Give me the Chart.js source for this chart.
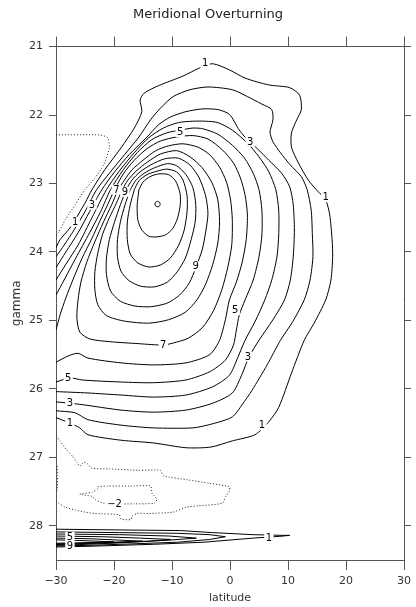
<!DOCTYPE html>
<html>
<head>
<meta charset="utf-8">
<script src="https://cdn.jsdelivr.net/npm/chart.js@4.4.1/dist/chart.umd.min.js"></script>
<style>
  html, body { margin: 0; padding: 0; background: #fff; }
  #wrap { width: 416px; height: 607px; }
</style>
</head>
<body>
<div id="wrap"><canvas id="overturning"></canvas></div>
<script>
// Meridional overturning, contours as [latitude, gamma]
var latTicks = [-30, -20, -10, 0, 10, 20, 30];
var gammaTicks = [21, 22, 23, 24, 25, 26, 27, 28];

// positive contours (solid), open ones start and end on the west edge
var psi1 = [[-30,23.94],[-29.3,23.82],[-27.6,23.65],[-26.2,23.46],[-24.9,23.27],[-23.8,23.09],[-21.6,22.80],[-18.8,22.48],[-16.5,22.19],[-15.2,21.95],[-15.5,21.78],[-14.8,21.68],[-12.3,21.57],[-8.1,21.43],[-5.2,21.31],[-3.0,21.25],[-0.1,21.34],[2.6,21.46],[6.7,21.56],[10.3,21.60],[12.0,21.71],[12.3,21.92],[11.5,22.07],[10.6,22.26],[10.6,22.47],[11.8,22.70],[13.5,22.95],[15.2,23.12],[16.5,23.24],[17.2,23.46],[17.6,23.82],[17.7,24.07],[17.4,24.41],[16.5,24.70],[14.5,25.04],[12.8,25.29],[10.6,25.77],[8.4,26.27],[6.7,26.48],[4.3,26.67],[0.4,26.76],[-3.3,26.85],[-7.6,26.86],[-13.2,26.79],[-18.8,26.75],[-24.5,26.67],[-25.9,26.57],[-27.6,26.50],[-30,26.42]];
var psi2 = [[-30,24.07],[-28.6,23.90],[-26.9,23.68],[-25.0,23.41],[-23.0,23.09],[-20.8,22.85],[-18.2,22.58],[-15.7,22.32],[-13.7,22.07],[-12.0,21.90],[-9.8,21.73],[-6.9,21.63],[-3.8,21.59],[0.4,21.63],[3.0,21.73],[5.5,21.84],[7.2,21.92],[7.4,22.07],[6.9,22.25],[7.4,22.39],[8.7,22.55],[10.4,22.73],[12.3,22.90],[13.3,23.09],[14.0,23.39],[14.2,23.75],[14.3,24.07],[13.8,24.41],[12.8,24.70],[10.8,25.02],[8.7,25.29],[6.4,25.65],[3.8,26.02],[2.1,26.23],[0.4,26.41],[-3.0,26.51],[-6.4,26.57],[-13.2,26.57],[-18.8,26.53],[-24.5,26.45],[-26.7,26.35],[-30,26.32]];
var psi3 = [[-30,24.23],[-28.3,24.00],[-26.2,23.72],[-24.2,23.41],[-22.1,23.09],[-19.9,22.83],[-17.4,22.58],[-14.3,22.32],[-12.3,22.14],[-10.3,22.03],[-7.6,21.95],[-4.7,21.91],[-2.1,21.92],[-0.1,21.99],[1.6,22.22],[3.0,22.36],[4.7,22.49],[6.7,22.66],[8.9,22.85],[10.3,23.05],[10.9,23.31],[11.1,23.68],[10.9,24.07],[10.4,24.41],[9.4,24.70],[7.4,24.99],[5.0,25.29],[3.3,25.53],[2.0,25.80],[0.4,26.06],[-3.0,26.21],[-7.6,26.31],[-13.2,26.34],[-18.8,26.31],[-25.5,26.23],[-27.6,26.21],[-30,26.19]];
var psi4 = [[-30,24.41],[-28.3,24.18],[-26.2,23.90],[-23.8,23.50],[-21.3,23.09],[-19.1,22.82],[-16.5,22.55],[-14.0,22.33],[-11.5,22.19],[-8.9,22.11],[-6.4,22.09],[-4.2,22.09],[-2.1,22.11],[0.4,22.22],[3.0,22.41],[5.0,22.61],[6.7,22.83],[7.9,23.09],[8.4,23.39],[8.4,23.75],[8.1,24.07],[7.2,24.41],[6.0,24.70],[4.3,25.02],[2.6,25.29],[1.3,25.55],[-0.1,25.80],[-3.0,25.97],[-7.6,26.09],[-13.2,26.12],[-18.8,26.09],[-24.5,26.06],[-30,26.04]];
var psi5 = [[-30,24.63],[-28.6,24.41],[-26.6,24.09],[-24.2,23.72],[-22.3,23.41],[-20.6,23.09],[-18.4,22.80],[-16.0,22.55],[-13.5,22.36],[-10.9,22.26],[-8.6,22.22],[-6.4,22.19],[-4.7,22.20],[-2.1,22.28],[0.4,22.44],[2.5,22.63],[4.0,22.85],[5.0,23.09],[5.5,23.39],[5.5,23.75],[5.0,24.07],[4.0,24.41],[2.6,24.70],[1.6,24.92],[1.1,25.14],[0.6,25.36],[-0.8,25.58],[-3.5,25.75],[-7.6,25.87],[-13.2,25.91],[-18.8,25.90],[-25.5,25.87],[-27.6,25.84],[-30,25.90]];
var psi6 = [[-30,25.14],[-29.3,24.92],[-28.3,24.67],[-27.1,24.41],[-25.5,24.09],[-23.8,23.80],[-22.5,23.56],[-21.1,23.31],[-19.9,23.09],[-18.4,22.86],[-16.5,22.66],[-14.3,22.49],[-12.0,22.38],[-9.2,22.32],[-6.4,22.30],[-3.8,22.35],[-1.3,22.51],[0.6,22.70],[1.8,22.92],[2.6,23.17],[3.0,23.46],[2.8,23.82],[2.1,24.15],[1.1,24.44],[-0.1,24.70],[-0.8,24.99],[-1.8,25.29],[-3.5,25.50],[-7.6,25.62],[-13.2,25.65],[-18.8,25.62],[-24.5,25.55],[-26.2,25.48],[-27.9,25.52],[-30,25.61]];
// closed cells around the maximum
var psi7 = [[-19.3,23.09],[-20.4,23.31],[-21.8,23.56],[-23.3,23.85],[-24.7,24.15],[-25.7,24.44],[-26.2,24.70],[-26.4,24.96],[-25.9,25.17],[-24.2,25.27],[-20.8,25.31],[-15.7,25.34],[-11.5,25.36],[-9.8,25.33],[-7.2,25.26],[-4.7,25.10],[-2.8,24.85],[-1.4,24.55],[-0.4,24.23],[0.3,23.90],[0.4,23.53],[0.1,23.24],[-0.6,22.98],[-1.8,22.76],[-3.5,22.58],[-5.5,22.47],[-8.1,22.42],[-10.6,22.45],[-12.8,22.52],[-15.0,22.66],[-16.9,22.80],[-18.2,22.95],[-19.3,23.09]];
var psi8 = [[-18.6,23.09],[-19.6,23.29],[-20.8,23.50],[-22.0,23.75],[-22.8,24.02],[-23.3,24.29],[-23.3,24.55],[-22.8,24.77],[-21.3,24.93],[-18.2,25.01],[-14.0,25.04],[-10.6,24.99],[-7.7,24.88],[-5.7,24.70],[-4.2,24.47],[-3.0,24.19],[-2.1,23.87],[-1.8,23.56],[-2.1,23.24],[-3.1,22.99],[-4.8,22.77],[-6.9,22.61],[-9.2,22.52],[-12.0,22.57],[-14.3,22.69],[-16.2,22.82],[-17.6,22.95],[-18.6,23.09]];
var psi9 = [[-17.9,23.09],[-18.9,23.31],[-19.9,23.56],[-20.8,23.82],[-21.3,24.09],[-21.3,24.33],[-20.6,24.57],[-18.9,24.72],[-16.4,24.79],[-13.7,24.80],[-10.9,24.75],[-8.7,24.63],[-7.0,24.45],[-5.9,24.23],[-4.8,23.97],[-4.2,23.71],[-3.8,23.44],[-4.2,23.18],[-5.3,22.92],[-6.9,22.73],[-8.9,22.63],[-11.3,22.64],[-13.7,22.73],[-15.5,22.83],[-16.9,22.95],[-17.9,23.09]];
var psi10 = [[-17.2,23.09],[-18.1,23.31],[-18.9,23.56],[-19.4,23.82],[-19.4,24.07],[-18.8,24.28],[-17.4,24.42],[-15.4,24.50],[-13.0,24.51],[-10.8,24.44],[-9.1,24.29],[-7.7,24.09],[-6.7,23.82],[-6.0,23.56],[-5.9,23.31],[-6.4,23.06],[-7.6,22.87],[-9.2,22.74],[-10.8,22.71],[-13.0,22.77],[-14.8,22.85],[-16.2,22.95],[-17.2,23.09]];
var psi11 = [[-16.5,23.09],[-17.2,23.31],[-17.7,23.56],[-17.7,23.82],[-17.2,24.03],[-15.9,24.16],[-14.0,24.22],[-12.0,24.19],[-10.3,24.09],[-8.9,23.91],[-7.9,23.68],[-7.4,23.41],[-7.4,23.18],[-8.1,22.95],[-9.2,22.83],[-10.9,22.79],[-12.6,22.82],[-14.3,22.87],[-15.7,22.96],[-16.5,23.09]];
var psi12 = [[-15.7,23.09],[-16.0,23.31],[-15.9,23.53],[-15.2,23.68],[-14.0,23.77],[-12.6,23.78],[-11.1,23.75],[-9.9,23.66],[-9.1,23.52],[-8.6,23.33],[-8.6,23.15],[-9.4,22.96],[-10.6,22.87],[-12.3,22.86],[-13.8,22.90],[-15.0,22.98],[-15.7,23.09]];
var psi13 = [[-12.5,23.26],[-12.1,23.28],[-12.05,23.31],[-12.3,23.34],[-12.8,23.33],[-12.95,23.30],[-12.8,23.27],[-12.5,23.26]];

// zero / negative contours (dotted)
var psiZero = [[-30,22.29],[-22.5,22.29],[-21.1,22.33],[-20.8,22.48],[-21.8,22.73],[-23.3,22.92],[-25.0,23.09],[-26.7,23.31],[-28.4,23.53],[-29.6,23.72],[-30,23.77]];
var psiEdge = [[-29.8,27.13],[-29.7,27.27],[-29.8,27.49]];
var psiMinus1 = [[-30,26.69],[-29.3,26.76],[-28.3,26.88],[-27.2,26.98],[-26.4,27.07],[-25.9,27.13],[-25.2,27.07],[-24.5,27.10],[-23.8,27.16],[-20.8,27.17],[-15.7,27.19],[-12.0,27.19],[-11.5,27.27],[-7.2,27.33],[-3.5,27.38],[-0.1,27.43],[-0.1,27.49],[-0.8,27.58],[-1.3,27.67],[-5.5,27.71],[-7.6,27.73],[-9.8,27.80],[-14.0,27.82],[-16.0,27.82],[-16.9,27.86],[-17.1,27.91],[-18.8,27.90],[-19.1,27.84],[-23.3,27.82],[-25.0,27.80],[-26.7,27.77],[-28.4,27.73],[-29.6,27.67],[-30,27.65]];
var psiMinus2 = [[-22.8,27.43],[-21.1,27.42],[-17.4,27.42],[-13.7,27.42],[-13.5,27.52],[-12.6,27.61],[-13.0,27.67],[-16.5,27.68],[-19.9,27.68],[-21.8,27.67],[-23.2,27.62],[-23.8,27.57],[-25.9,27.54],[-23.8,27.51],[-22.8,27.46],[-22.8,27.43]];

// thin cells at the bottom
var deep1 = [[-30,28.05],[-20,28.06],[-8.5,28.07],[-3,28.10],[4,28.13],[9,28.14],[10.3,28.14],[8.5,28.155],[4,28.18],[-4.5,28.24],[-13,28.27],[-24.5,28.30],[-30,28.31]];
var deep2 = [[-30,28.09],[-19,28.10],[-9,28.11],[-3.5,28.13],[-0.8,28.16],[-3.5,28.20],[-9,28.24],[-17,28.265],[-24,28.285],[-30,28.295]];
var deep3 = [[-30,28.12],[-19,28.13],[-10.5,28.15],[-5.8,28.18],[-10.5,28.21],[-19,28.25],[-26,28.275],[-30,28.285]];
var deep4 = [[-30,28.15],[-22,28.16],[-15.5,28.18],[-10.2,28.20],[-14,28.225],[-21,28.25],[-27,28.265],[-30,28.275]];
var deep5 = [[-30,28.18],[-24,28.19],[-19,28.21],[-15,28.225],[-22,28.245],[-30,28.265]];
var deep6 = [[-30,28.205],[-26,28.215],[-20,28.235],[-26,28.25],[-30,28.255]];

// contour labels: [latitude, gamma, text]
var contourLabels = [
  [-4.3,21.24,'1'], [3.5,22.39,'3'], [-8.6,22.25,'5'], [16.5,23.20,'1'],
  [-5.9,24.21,'9'], [0.9,24.85,'5'], [-11.5,25.36,'7'], [3.1,25.53,'3'],
  [5.5,26.53,'1'], [-27.9,25.84,'5'], [-27.6,26.21,'3'], [-27.6,26.50,'1'],
  [-26.7,23.56,'1'], [-23.8,23.31,'3'], [-19.6,23.09,'7'], [-18.1,23.12,'9'],
  [-19.9,27.68,'-2'], [6.7,28.18,'1'], [-27.6,28.16,'5'], [-27.6,28.29,'9']
];

var solidLines = [psi1, psi2, psi3, psi4, psi5, psi6, psi7, psi8, psi9, psi10, psi11, psi12, psi13];
var dottedLines = [psiZero, psiEdge, psiMinus1, psiMinus2];
var deepLines = [deep1, deep2, deep3, deep4, deep5, deep6];

function toPoints(arr) {
  return arr.map(function (p) { return { x: p[0], y: p[1] }; });
}

var datasets = [];
solidLines.forEach(function (line) {
  datasets.push({ data: toPoints(line), showLine: true, borderColor: '#000', borderWidth: 1,
    pointRadius: 0, tension: 0.25 });
});
dottedLines.forEach(function (line) {
  datasets.push({ data: toPoints(line), showLine: true, borderColor: '#222', borderWidth: 1,
    borderDash: [1, 2], pointRadius: 0, tension: 0.2 });
});
deepLines.forEach(function (line) {
  datasets.push({ data: toPoints(line), showLine: true, borderColor: '#000', borderWidth: 1,
    pointRadius: 0, tension: 0 });
});

// draws the contour labels with a white gap behind them
var labelPlugin = {
  id: 'contourLabels',
  afterDatasetsDraw: function (chart) {
    var ctx = chart.ctx, xs = chart.scales.x, ys = chart.scales.y;
    ctx.save();
    ctx.font = '10px "DejaVu Sans"';
    ctx.textAlign = 'center';
    ctx.textBaseline = 'middle';
    contourLabels.forEach(function (l) {
      var px = xs.getPixelForValue(l[0]);
      var py = ys.getPixelForValue(l[1]);
      var txt = l[2].replace('-', '\u2212');
      var w = ctx.measureText(txt).width;
      ctx.fillStyle = '#fff';
      ctx.fillRect(px - w / 2 - 1.5, py - 5, w + 3, 10);
      ctx.fillStyle = '#000';
      ctx.fillText(txt, px, py + 0.5);
    });
    ctx.restore();
  }
};

var tickFont = { family: 'DejaVu Sans', size: 11 };
var axisColor = '#555';

var config = {
  type: 'scatter',
  data: { datasets: datasets },
  options: {
    responsive: true,
    maintainAspectRatio: false,
    animation: false,
    layout: { padding: 0 },
    plugins: {
      legend: { display: false },
      tooltip: { enabled: false },
      title: {
        display: true,
        text: 'Meridional Overturning',
        color: '#222',
        font: { family: 'DejaVu Sans', size: 13, weight: 'normal' },
        padding: { top: 7, bottom: 14 }
      }
    },
    scales: {
      x: {
        type: 'linear', position: 'bottom', min: -30, max: 30,
        afterBuildTicks: function (s) { s.ticks = latTicks.map(function (v) { return { value: v }; }); },
        afterFit: function (s) { s.height = 47; },
        ticks: { font: tickFont, color: '#333', padding: 5,
          callback: function (v) { return String(v).replace('-', '\u2212'); } },
        grid: { drawOnChartArea: false, tickLength: 10, color: axisColor },
        border: { color: axisColor },
        title: { display: true, text: 'latitude', color: '#333', font: tickFont, padding: { top: 0, bottom: 2 } }
      },
      x2: {
        type: 'linear', position: 'top', min: -30, max: 30,
        afterBuildTicks: function (s) { s.ticks = latTicks.map(function (v) { return { value: v }; }); },
        afterFit: function (s) { s.height = 10; },
        ticks: { display: false },
        grid: { drawOnChartArea: false, tickLength: 10, color: axisColor },
        border: { color: axisColor }
      },
      y: {
        type: 'linear', position: 'left', reverse: true, min: 21, max: 28.5,
        afterBuildTicks: function (s) { s.ticks = gammaTicks.map(function (v) { return { value: v }; }); },
        afterFit: function (s) { s.width = 56; },
        ticks: { font: tickFont, color: '#333', padding: 6 },
        grid: { drawOnChartArea: false, tickLength: 7, color: axisColor },
        border: { color: axisColor },
        title: { display: true, text: 'gamma', color: '#333', font: { family: 'DejaVu Sans', size: 12 }, padding: { top: 10, bottom: 0 } }
      },
      y2: {
        type: 'linear', position: 'right', reverse: true, min: 21, max: 28.5,
        afterBuildTicks: function (s) { s.ticks = gammaTicks.map(function (v) { return { value: v }; }); },
        afterFit: function (s) { s.width = 7; },
        ticks: { display: false },
        grid: { drawOnChartArea: false, tickLength: 7, color: axisColor },
        border: { color: axisColor }
      }
    }
  },
  plugins: [labelPlugin]
};

var overturningChart = new Chart(document.getElementById('overturning'), config);
</script>
</body>
</html>
